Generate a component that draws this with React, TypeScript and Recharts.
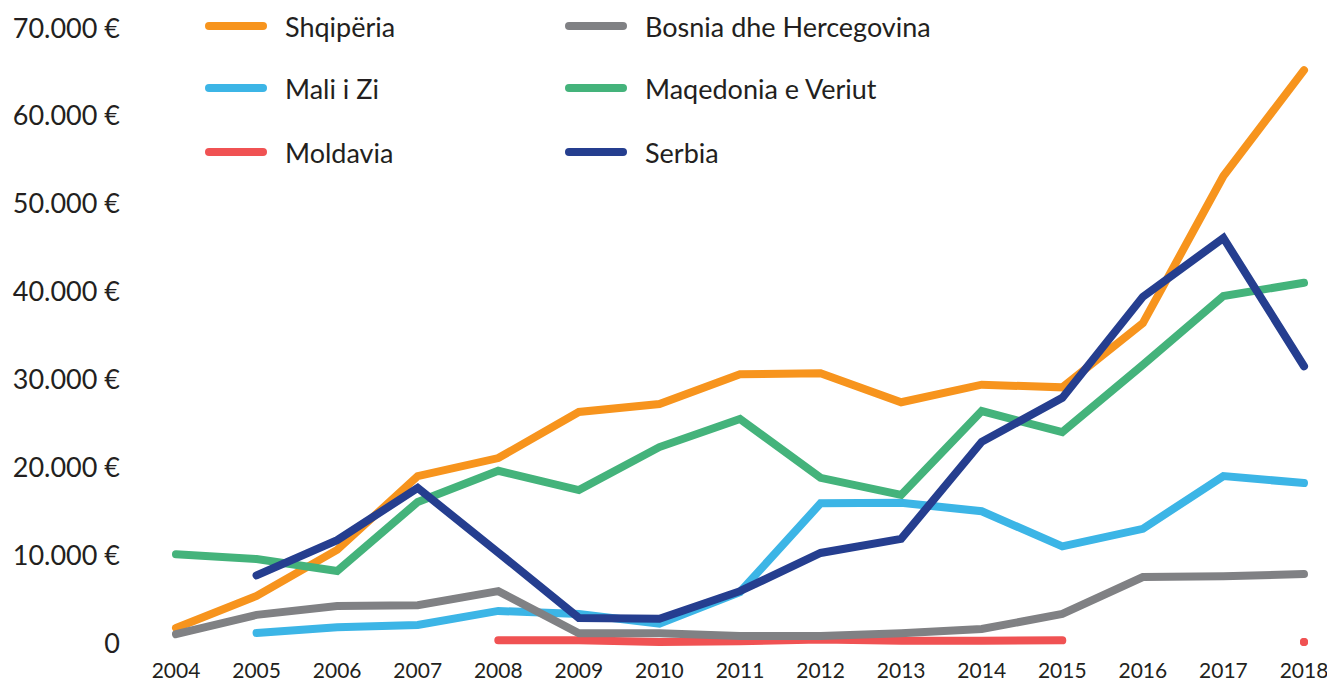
import { LineChart, Line, XAxis, YAxis } from "recharts"

const years = ["2004", "2005", "2006", "2007", "2008", "2009", "2010", "2011", "2012", "2013", "2014", "2015", "2016", "2017", "2018"]

const shqiperia = [1700, 5350, 10600, 19000, 21050, 26300, 27200, 30600, 30700, 27400, 29400, 29100, 36400, 53150, 65200]
const maliIZi = [null, 1150, 1800, 2050, 3650, 3300, 2200, 5800, 15900, 15950, 15000, 11000, 13000, 19000, 18200]
const moldavia = [null, null, null, null, 300, 300, 100, 200, 400, 250, 250, 300, null, null, 100]
const bosnia = [1000, 3200, 4200, 4300, 5900, 1100, 1100, 800, 800, 1100, 1600, 3300, 7500, 7600, 7850]
const maqedonia = [10100, 9550, 8200, 16050, 19600, 17400, 22300, 25500, 18800, 16850, 26400, 24000, 31650, 39500, 41000]
const serbia = [null, 7700, 11700, 17650, 10300, 2850, 2750, 5900, 10250, 11850, 22900, 27900, 39400, 46100, 31500]

const yTicks = [0, 10000, 20000, 30000, 40000, 50000, 60000, 70000]

const series = [
  { key: "shqiperia", name: "Shqipëria", color: "#F7941D" },
  { key: "maliIZi", name: "Mali i Zi", color: "#3CB5E6" },
  { key: "moldavia", name: "Moldavia", color: "#F05253" },
  { key: "bosnia", name: "Bosnia dhe Hercegovina", color: "#808184" },
  { key: "maqedonia", name: "Maqedonia e Veriut", color: "#44B37B" },
  { key: "serbia", name: "Serbia", color: "#253E8F" },
]

// legend order: left column then right column
const legendOrder = ["shqiperia", "maliIZi", "moldavia", "bosnia", "maqedonia", "serbia"]

const font = "Lato, 'Open Sans', sans-serif"

const data = years.map((year, i) => ({
  year,
  shqiperia: shqiperia[i],
  maliIZi: maliIZi[i],
  moldavia: moldavia[i],
  bosnia: bosnia[i],
  maqedonia: maqedonia[i],
  serbia: serbia[i],
}))

const formatEuro = (v: number) => (v === 0 ? "0" : v.toLocaleString("de-DE") + " €")

// only draw a dot where a point has no neighbours (isolated value)
function IsolatedDot(props: any) {
  const { cx, cy, index, stroke, dataKey } = props
  const row = data[index] as any
  const prev = index > 0 ? (data[index - 1] as any)[dataKey] : null
  const next = index < data.length - 1 ? (data[index + 1] as any)[dataKey] : null
  if (row[dataKey] == null || prev != null || next != null || cx == null) {
    return <g key={`d-${dataKey}-${index}`} />
  }
  return <circle key={`d-${dataKey}-${index}`} cx={cx} cy={cy} r={4} fill={stroke} />
}

function LegendBlock() {
  return (
    <div style={{ position: "absolute", left: 0, top: 0, width: 1327, height: 180, pointerEvents: "none" }}>
      {legendOrder.map((k, i) => {
        const s = series.find((x) => x.key === k)!
        const col = Math.floor(i / 3)
        const row = i % 3
        const left = col === 0 ? 205 : 565
        const top = [26, 88, 152][row]
        return (
          <div key={k} style={{ position: "absolute", left, top: top - 20, height: 40, display: "flex", alignItems: "center" }}>
            <div style={{ width: 62, height: 8, borderRadius: 4, background: s.color }} />
            <span style={{ marginLeft: 18, fontFamily: font, fontSize: 27, color: "#231F20" }}>{s.name}</span>
          </div>
        )
      })}
    </div>
  )
}

export default function App() {
  return (
    <div style={{ position: "absolute", left: 0, top: 0, width: 1327, height: 684, background: "#fff" }}>
      <LineChart width={1327} height={684} data={data} margin={{ top: 28, right: 23, left: 0, bottom: 0 }}>
        <XAxis
          dataKey="year"
          axisLine={false}
          tickLine={false}
          height={41}
          tickMargin={14}
          interval={0}
          tick={{ fill: "#231F20", fontSize: 21, fontFamily: font }}
        />
        <YAxis
          domain={[0, 70000]}
          ticks={yTicks}
          axisLine={false}
          tickLine={false}
          width={176}
          tickMargin={50}
          tickFormatter={formatEuro}
          tick={{ fill: "#231F20", fontSize: 27, fontFamily: font }}
        />
        {series.map((s) => (
          <Line
            key={s.key}
            type="linear"
            dataKey={s.key}
            name={s.name}
            stroke={s.color}
            strokeWidth={8}
            strokeLinecap="round"
            strokeLinejoin="miter"
            dot={<IsolatedDot />}
            activeDot={false}
            isAnimationActive={false}
          />
        ))}
      </LineChart>
      <LegendBlock />
    </div>
  )
}
